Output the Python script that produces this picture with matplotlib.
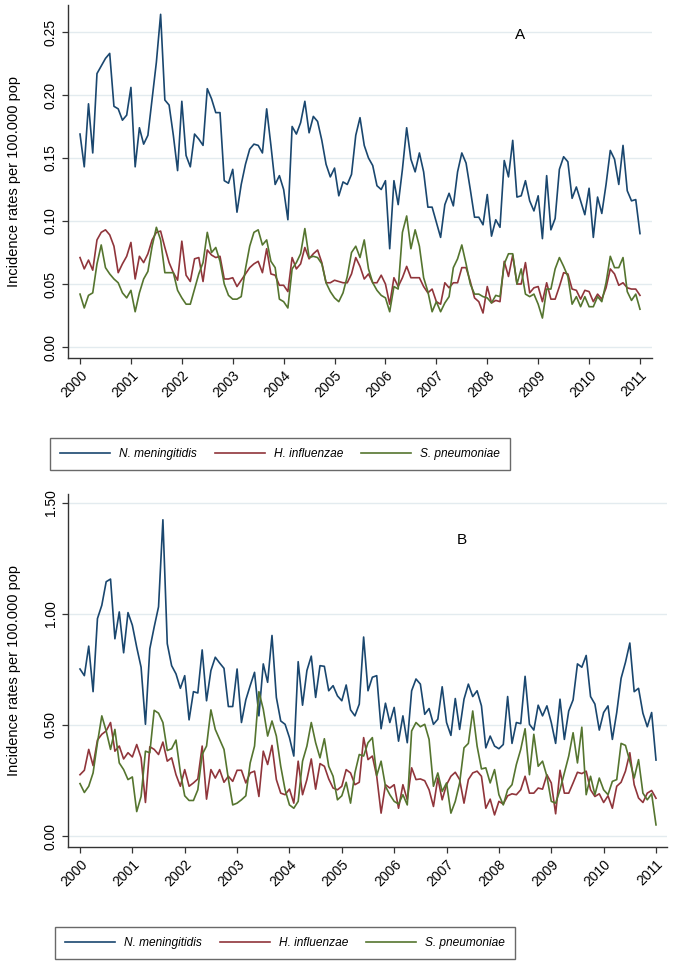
import numpy as np
import matplotlib
matplotlib.use("Agg")
import matplotlib.pyplot as plt
from matplotlib.lines import Line2D

plt.rcParams['font.family'] = ['Liberation Sans', 'DejaVu Sans']

# ---- data: monthly incidence rates per 100.000 pop, 2000 - 2011 ----
years = list(range(2000, 2012))
species = ['N. meningitidis', 'H. influenzae', 'S. pneumoniae']

# panel A
a_nm = [0.169, 0.143, 0.193, 0.154, 0.217, 0.223, 0.229, 0.233, 0.191, 0.189, 0.180, 0.184,
        0.206, 0.143, 0.174, 0.161, 0.168, 0.197, 0.226, 0.264, 0.196, 0.192, 0.168, 0.140,
        0.195, 0.152, 0.143, 0.169, 0.165, 0.160, 0.205, 0.197, 0.186, 0.186, 0.132, 0.130,
        0.141, 0.107, 0.129, 0.145, 0.157, 0.161, 0.160, 0.154, 0.189,
        0.160, 0.129, 0.136, 0.125, 0.101, 0.175, 0.169, 0.178, 0.195, 0.170, 0.183, 0.179,
        0.164, 0.145, 0.135, 0.142, 0.120, 0.131, 0.129, 0.137, 0.168, 0.182, 0.160, 0.150,
        0.144, 0.128, 0.125, 0.132, 0.078, 0.132, 0.113, 0.141, 0.174, 0.149, 0.139, 0.154,
        0.139, 0.111, 0.111, 0.099, 0.087, 0.113, 0.122, 0.112, 0.139,
        0.154, 0.146, 0.125, 0.103, 0.103, 0.097, 0.121, 0.088, 0.101, 0.095, 0.148, 0.135,
        0.164, 0.119, 0.120, 0.132, 0.116, 0.108, 0.120, 0.086, 0.136, 0.093, 0.102, 0.141,
        0.151, 0.147, 0.118, 0.127, 0.116, 0.105, 0.126, 0.087, 0.119, 0.106, 0.129, 0.156,
        0.149, 0.129, 0.160, 0.124, 0.116, 0.117, 0.090]
a_hi = [0.071, 0.062, 0.069, 0.061, 0.085, 0.091, 0.093, 0.089, 0.080, 0.059, 0.066, 0.072,
        0.083, 0.054, 0.072, 0.067, 0.074, 0.085, 0.091, 0.092, 0.079, 0.067, 0.059, 0.053,
        0.084, 0.057, 0.052, 0.070, 0.071, 0.052, 0.077, 0.073, 0.071, 0.072, 0.054, 0.054,
        0.055, 0.048, 0.053, 0.058, 0.063, 0.066, 0.068, 0.059, 0.078,
        0.058, 0.057, 0.049, 0.049, 0.044, 0.071, 0.062, 0.066, 0.079, 0.070, 0.074, 0.077,
        0.067, 0.051, 0.051, 0.053, 0.052, 0.051, 0.051, 0.058, 0.071, 0.064, 0.054, 0.058,
        0.051, 0.051, 0.057, 0.050, 0.034, 0.055, 0.048, 0.055, 0.064, 0.055, 0.055, 0.055,
        0.048, 0.043, 0.046, 0.036, 0.034, 0.051, 0.047, 0.051, 0.051,
        0.063, 0.063, 0.052, 0.039, 0.036, 0.027, 0.048, 0.035, 0.037, 0.036, 0.068, 0.056,
        0.073, 0.050, 0.050, 0.067, 0.043, 0.047, 0.048, 0.036, 0.051, 0.038, 0.038, 0.048,
        0.059, 0.058, 0.046, 0.045, 0.038, 0.045, 0.044, 0.036, 0.042, 0.038, 0.047, 0.062,
        0.058, 0.049, 0.051, 0.047, 0.046, 0.046, 0.041]
a_sp = [0.042, 0.031, 0.041, 0.043, 0.066, 0.081, 0.063, 0.058, 0.054, 0.051, 0.043, 0.039,
        0.045, 0.028, 0.043, 0.054, 0.060, 0.080, 0.095, 0.085, 0.059, 0.059, 0.059, 0.045,
        0.039, 0.034, 0.034, 0.046, 0.058, 0.067, 0.091, 0.075, 0.079, 0.068, 0.050, 0.041,
        0.038, 0.038, 0.040, 0.062, 0.080, 0.091, 0.093, 0.081, 0.085,
        0.068, 0.063, 0.038, 0.036, 0.031, 0.062, 0.067, 0.074, 0.094, 0.071, 0.072, 0.071,
        0.066, 0.051, 0.044, 0.039, 0.036, 0.043, 0.056, 0.075, 0.080, 0.071, 0.085, 0.062,
        0.051, 0.045, 0.041, 0.039, 0.028, 0.048, 0.046, 0.091, 0.104, 0.078, 0.093, 0.080,
        0.055, 0.044, 0.028, 0.036, 0.028, 0.035, 0.040, 0.063, 0.070,
        0.081, 0.066, 0.050, 0.042, 0.042, 0.040, 0.039, 0.035, 0.041, 0.040, 0.066, 0.074,
        0.074, 0.050, 0.062, 0.042, 0.040, 0.042, 0.034, 0.023, 0.046, 0.046, 0.062, 0.071,
        0.064, 0.056, 0.034, 0.040, 0.032, 0.040, 0.032, 0.032, 0.040, 0.036, 0.051, 0.072,
        0.063, 0.063, 0.071, 0.044, 0.037, 0.042, 0.030]

# panel B
b_nm = [0.752, 0.722, 0.855, 0.650, 0.979, 1.039, 1.145, 1.157, 0.888, 1.009, 0.825, 1.006,
        0.949, 0.850, 0.760, 0.503, 0.843, 0.941, 1.032, 1.424, 0.866, 0.767, 0.730, 0.665,
        0.722, 0.523, 0.650, 0.644, 0.838, 0.609, 0.745, 0.805, 0.779, 0.755, 0.583, 0.583,
        0.752, 0.511, 0.613, 0.677, 0.737, 0.541, 0.775, 0.692,
        0.903, 0.624, 0.518, 0.503, 0.443, 0.360, 0.785, 0.589, 0.745, 0.810, 0.624, 0.767,
        0.764, 0.654, 0.677, 0.631, 0.609, 0.680, 0.568, 0.541, 0.594, 0.896, 0.654, 0.715,
        0.722, 0.483, 0.598, 0.511, 0.579, 0.427, 0.541, 0.420, 0.654, 0.707, 0.684, 0.548,
        0.574, 0.503, 0.526, 0.672, 0.511, 0.453,
        0.619, 0.480, 0.616, 0.684, 0.628, 0.654, 0.586, 0.397, 0.450, 0.405, 0.393, 0.412,
        0.628, 0.417, 0.511, 0.506, 0.719, 0.503, 0.477, 0.589, 0.541, 0.586, 0.511, 0.417,
        0.616, 0.435, 0.563, 0.613, 0.775, 0.760, 0.813, 0.628, 0.594, 0.477, 0.556, 0.586,
        0.435, 0.556, 0.710, 0.782, 0.869, 0.650, 0.665, 0.553, 0.492, 0.556, 0.342]
b_hi = [0.276, 0.296, 0.390, 0.317, 0.432, 0.458, 0.473, 0.511, 0.382, 0.405, 0.347, 0.375,
        0.356, 0.412, 0.352, 0.151, 0.402, 0.390, 0.367, 0.423, 0.337, 0.352, 0.276, 0.224,
        0.299, 0.224, 0.239, 0.257, 0.405, 0.166, 0.299, 0.261, 0.299, 0.242, 0.269, 0.246,
        0.296, 0.296, 0.239, 0.284, 0.292, 0.178, 0.382, 0.322,
        0.408, 0.254, 0.193, 0.186, 0.211, 0.148, 0.337, 0.186, 0.254, 0.347, 0.211, 0.326,
        0.314, 0.257, 0.216, 0.208, 0.224, 0.299, 0.284, 0.231, 0.242, 0.443, 0.344, 0.360,
        0.269, 0.103, 0.231, 0.216, 0.231, 0.125, 0.231, 0.163, 0.307, 0.254, 0.257, 0.249,
        0.208, 0.133, 0.261, 0.163, 0.231, 0.269,
        0.287, 0.254, 0.148, 0.254, 0.284, 0.292, 0.269, 0.125, 0.166, 0.095, 0.156, 0.144,
        0.181, 0.190, 0.186, 0.208, 0.269, 0.193, 0.193, 0.216, 0.211, 0.276, 0.239, 0.100,
        0.296, 0.193, 0.193, 0.239, 0.287, 0.281, 0.292, 0.208, 0.178, 0.190, 0.151, 0.181,
        0.125, 0.224, 0.242, 0.292, 0.375, 0.231, 0.171, 0.151, 0.193, 0.205, 0.170]
b_sp = [0.236, 0.196, 0.224, 0.284, 0.420, 0.541, 0.473, 0.390, 0.480, 0.329, 0.299, 0.254,
        0.266, 0.110, 0.178, 0.382, 0.375, 0.566, 0.553, 0.511, 0.385, 0.393, 0.432, 0.287,
        0.181, 0.160, 0.160, 0.208, 0.367, 0.405, 0.568, 0.480, 0.435, 0.390, 0.257, 0.140,
        0.148, 0.163, 0.181, 0.329, 0.405, 0.650, 0.571, 0.450,
        0.518, 0.450, 0.314, 0.208, 0.140, 0.125, 0.156, 0.337, 0.405, 0.511, 0.420, 0.352,
        0.438, 0.314, 0.269, 0.163, 0.181, 0.242, 0.148, 0.284, 0.367, 0.360, 0.420, 0.443,
        0.272, 0.337, 0.224, 0.186, 0.156, 0.144, 0.186, 0.140, 0.473, 0.511, 0.492, 0.503,
        0.435, 0.224, 0.284, 0.201, 0.239, 0.103,
        0.156, 0.239, 0.397, 0.417, 0.563, 0.405, 0.302, 0.307, 0.239, 0.299, 0.186, 0.140,
        0.208, 0.231, 0.322, 0.390, 0.483, 0.276, 0.458, 0.314, 0.337, 0.269, 0.156, 0.148,
        0.208, 0.284, 0.360, 0.465, 0.329, 0.490, 0.186, 0.269, 0.186, 0.261, 0.208, 0.186,
        0.246, 0.254, 0.417, 0.408, 0.337, 0.261, 0.344, 0.193, 0.163, 0.190, 0.050]

a_ticks = [0.00, 0.05, 0.10, 0.15, 0.20, 0.25]
b_ticks = [0.00, 0.50, 1.00, 1.50]

colors = ['#1a476f', '#90353b', '#55752f']
grid_col = '#e3ebef'

fig = plt.figure(figsize=(6.73, 9.65), dpi=100)
W, H = 673, 965


def add_ax(x0, y0, x1, y1):
    # pixel box -> figure fraction
    return fig.add_axes([x0 / W, 1 - y1 / H, (x1 - x0) / W, (y1 - y0) / H])


def style(ax, yticks, fmt):
    for s in ['top', 'right']:
        ax.spines[s].set_visible(False)
    for s in ['left', 'bottom']:
        ax.spines[s].set_color('#333333')
        ax.spines[s].set_linewidth(1.0)
    ax.set_yticks(yticks)
    ax.set_yticklabels([fmt.format(v) for v in yticks], rotation=90, va='center', fontsize=10)
    ax.set_xticks(years)
    ax.set_xticklabels([str(y) for y in years], rotation=45, ha='right',
                       rotation_mode='anchor', fontsize=10)
    ax.tick_params(direction='out', length=4, width=0.9, color='#333333')
    ax.grid(axis='y', color=grid_col, lw=1.0)
    ax.set_axisbelow(True)
    ax.set_ylabel('Incidence rates per 100.000 pop', fontsize=10.5, labelpad=16)


def draw(ax, series):
    for vals, c, lab in zip(series, colors, species):
        x = np.linspace(2000, 2011, len(vals))
        ax.plot(x, vals, color=c, lw=1.2, label=lab)


# panel A
axA = add_ax(68, 5, 652, 358)
draw(axA, [a_nm, a_hi, a_sp])
axA.set_xlim(1999.764, 2011.236)
axA.set_ylim(-0.0087, 0.2714)
style(axA, a_ticks, '{:.2f}')
axA.text(2008.64, 0.2476, 'A', ha='center', va='center', fontsize=11)

# panel B
axB = add_ax(68, 494, 667, 847)
draw(axB, [b_nm, b_hi, b_sp])
axB.set_xlim(1999.771, 2011.21)
axB.set_ylim(-0.0495, 1.540)
style(axB, b_ticks, '{:.2f}')
axB.text(2007.30, 1.333, 'B', ha='center', va='center', fontsize=11)

# legends
handles = [Line2D([], [], color=c, lw=1.2) for c in colors]
for cx, cy in [(280, 454), (285, 943)]:
    leg = fig.legend(handles, species, loc='center', bbox_to_anchor=(cx / W, 1 - cy / H),
                     ncol=3, frameon=True, fancybox=False, handlelength=4.2,
                     columnspacing=1.5, handletextpad=0.75, borderpad=0.8,
                     prop={'style': 'italic', 'size': 8.6})
    leg.get_frame().set_edgecolor('#444444')
    leg.get_frame().set_linewidth(1.0)

fig.savefig('out.png', dpi=100)
